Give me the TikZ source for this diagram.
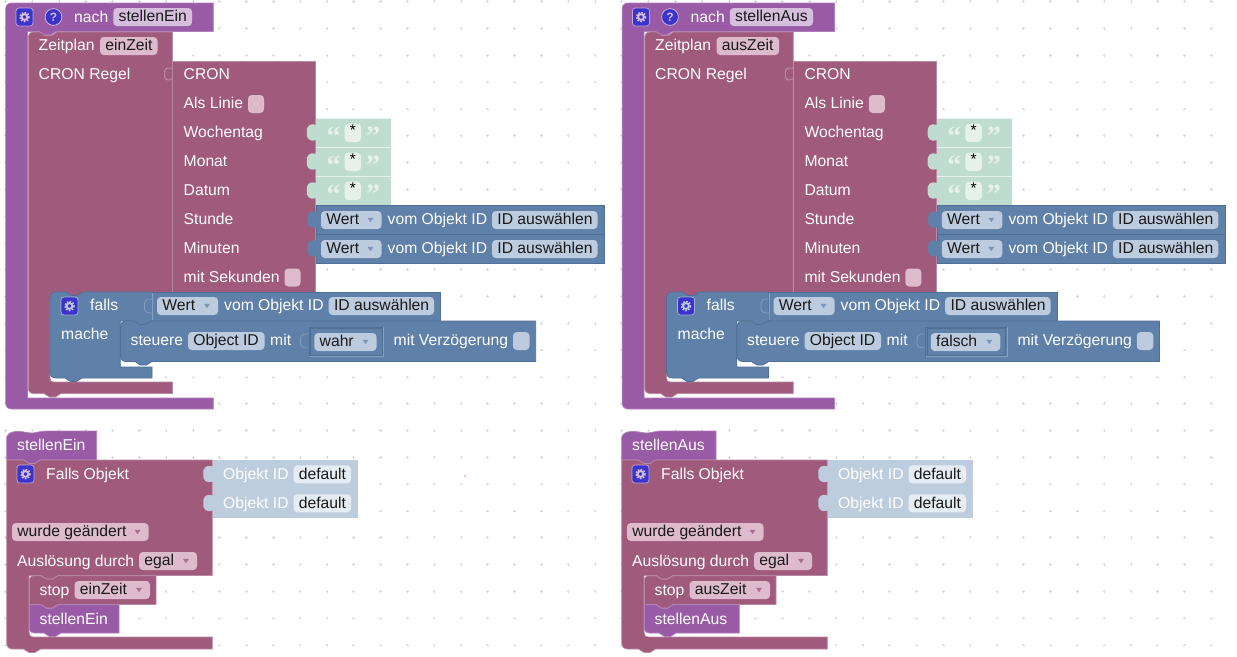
\documentclass[tikz,border=0pt]{standalone}
\usepackage{fontspec}
\setmainfont{Liberation Sans}
\newfontfamily\qfont{Liberation Serif}
\definecolor{cPurple}{HTML}{995BA5}
\definecolor{cPurpleE}{HTML}{B07FBB}
\definecolor{cMaroon}{HTML}{A05A7C}
\definecolor{cMaroonE}{HTML}{B98AA3}
\definecolor{cBlue}{HTML}{5F80A8}
\definecolor{cBlueE}{HTML}{4F7096}
\definecolor{cBlueL}{HTML}{86A0C2}
\definecolor{cGreen}{HTML}{BFDCD0}
\definecolor{cLight}{HTML}{BDCDDE}
\definecolor{fPurple}{HTML}{D6BFDD}
\definecolor{fMaroon}{HTML}{DDBBCC}
\definecolor{fBlue}{HTML}{BCCBDD}
\definecolor{fGreen}{HTML}{E6F1EC}
\definecolor{fLight}{HTML}{E6ECF3}
\definecolor{cIcon}{HTML}{3A33CC}
\definecolor{cDot}{HTML}{D8D8D8}
\definecolor{aBlue}{HTML}{7C97B8}
\definecolor{aMaroon}{HTML}{A87090}
\newcount\nn
\newcommand\nx{\global\advance\nn by 1 }
\tikzset{
  lbl/.style={anchor=base west,inner sep=0pt,text=white,font=\fontsize{15.7}{18}\selectfont},
  fld/.style={anchor=base west,inner sep=0pt,text=black!90,font=\fontsize{15.7}{18}\selectfont},
}
% text label: x, centre y, text
\newcommand\lbl[3]{\nx\node[lbl] (n\the\nn) at (#1,{#2+5.5}) {#3};}
% pill: x1,y1,x2,y2,fill,text
\newcommand\pill[6]{\fill[#5,rounded corners=3.8] (#1,#2) rectangle (#3,#4);
  \nx\node[fld] (n\the\nn) at ({#1+5.2},{(#2+#4)/2+4.9}) {#6};}
% dropdown arrow: right edge x2, centre y, colour
\newcommand\arrw[3]{\fill[#3] ({#1-14},{#2-2.2}) -- ({#1-8},{#2-2.2}) -- ({#1-11},{#2+2.2}) -- cycle;}
\newcommand\chk[5]{\fill[#5,rounded corners=3.8] (#1,#2) rectangle (#3,#4);}
% value socket/tab: x of the block edge, centre y, colour
\newcommand\tabb[3]{\fill[#3,shift={(#1,#2)}] (0.6,-7) .. controls (-1,-8.5) and (-7.5,-9.5) .. (-9,-4) .. controls (-9.3,-1.5) and (-9.3,1.5) .. (-9,4) .. controls (-7.5,9.5) and (-1,8.5) .. (0.6,7) -- cycle;}
\newcommand\socket[2]{\draw[#2,line width=.7,shift={(#1,0)}] (0,-7) .. controls (-3,-7.5) and (-7.5,-7) .. (-8,-3) -- (-8,3) .. controls (-7.5,7) and (-3,7) .. (0,7);}
\newcommand\dentR[2]{ -- (#1,#2) -- ({#1+5.5},{#2+3.5}) -- ({#1+11.5},{#2+3.5}) -- ({#1+17},#2) }
\newcommand\dentL[2]{ -- ({#1+17},#2) -- ({#1+11.5},{#2+3.5}) -- ({#1+5.5},{#2+3.5}) -- (#1,#2) }
\newcommand\gear[4]{\fill[cIcon,rounded corners=3] (#1,#2) rectangle ({#1+17},{#2+18});
  \draw[#4,line width=.7,rounded corners=3,opacity=.8] (#1,#2) rectangle ({#1+17},{#2+18});
  \draw[#3,line width=1.9] ({#1+8.5},{#2+9}) circle (2.9);
  \draw[#3,line width=1.5,dash pattern=on 1.6pt off 1.44pt] ({#1+8.5},{#2+9}) circle (4.6);}
\newcommand\upperblock[8]{%
  % purple C
  \path[fill=cPurple,draw=cPurpleE,line width=.7] (5.7,9) .. controls (5.7,5) and (8,3) .. (12,3) -- (#3,3) -- (#3,31.5) \dentL{39}{31.5} -- (27.5,31.5) -- (27.5,398) -- (#3,398) -- (#3,409) -- (12,409) .. controls (8,409) and (5.7,407) .. (5.7,403) -- cycle;
  \gear{16}{8}{fPurple}{fPurple}
  \fill[cIcon] (53.5,17) circle (8.4);
  \draw[fPurple,line width=.7] (53.5,17) circle (8.4);
  \nx\node[inner sep=0pt,text=fPurple,font=\bfseries\fontsize{12}{12}\selectfont] (n\the\nn) at (53.5,17) {?};
  \lbl{74}{17}{nach}
  \pill{113.3}{8}{#4}{26}{fPurple}{#1}
  % Zeitplan C
  \path[fill=cMaroon,draw=cMaroonE,line width=.7] (28.3,38) .. controls (28.3,34) and (30,32) .. (34,32) \dentR{40}{32} -- ({172.5+#6},32) -- ({172.5+#6},300) -- (50,300) -- (50,378) .. controls (50,381) and (51,382) .. (54,382) -- ({172.5+#6},382) -- ({172.5+#6},393.5) \dentL{44}{393.5} -- (34,393.5) .. controls (30,393.5) and (28.3,391.5) .. (28.3,388) -- cycle;
  \lbl{38.5}{45}{Zeitplan}
  \pill{100}{37}{#5}{55}{fMaroon}{#2}
  \lbl{38.5}{74}{CRON Regel}
  \begin{scope}[shift={(#6,0)}]
    % CRON
    \fill[cMaroonE,shift={(172.5,74)}] (0.5,-6.5) -- (-4,-6.5) .. controls (-8,-6.5) and (-8.5,-4) .. (-8.5,0) .. controls (-8.5,4) and (-8,6.5) .. (-4,6.5) -- (0.5,4.5) -- cycle;
    \fill[cMaroon,shift={(172.5,74)}] (0.5,-5.5) -- (-4,-5.5) .. controls (-7,-5.5) and (-7.5,-3) .. (-7.5,0) .. controls (-7.5,3) and (-7,5.5) .. (-4,5.5) -- (0.5,3.5) -- cycle;
    \path[fill=cMaroon,draw=cMaroonE,line width=.7] (172.8,61) -- (315.3,61) -- (315.3,300) -- (172.8,300) -- cycle;
    \lbl{183.5}{74}{CRON}
    \lbl{183.5}{103}{Als Linie}
    \chk{248}{95}{264}{113}{fMaroon}
    \lbl{183.5}{132}{Wochentag}
    \lbl{183.5}{161}{Monat}
    \lbl{183.5}{190}{Datum}
    \lbl{183.5}{219}{Stunde}
    \lbl{183.5}{248}{Minuten}
    \lbl{183.5}{276.5}{mit Sekunden}
    \chk{284.5}{268.5}{300.5}{286.5}{fMaroon}
    % string values
    \foreach \yy in {118,147,176}{
      \fill[cGreen] (316,\yy) rectangle (391,{\yy+29});
      \draw[fGreen,line width=.5] (316,\yy) -- (391,\yy);
      \tabb{316}{\yy+14.5}{cGreen}
      \nx\node[inner sep=0pt,text=fGreen,font=\qfont\bfseries\fontsize{28}{28}\selectfont] (n\the\nn) at (333.5,{\yy+18.5}) {“};
      \fill[fGreen,rounded corners=3.8] (344.5,{\yy+5.5}) rectangle (361,{\yy+24});
      \nx\node[inner sep=0pt,text=black,font=\fontsize{15.5}{18}\selectfont] (n\the\nn) at (352.8,{\yy+12.5}) {*};
      \nx\node[inner sep=0pt,text=fGreen,font=\qfont\bfseries\fontsize{28}{28}\selectfont] (n\the\nn) at (373,{\yy+18.5}) {”};
    }
    % Wert blocks
    \foreach \yy in {205.5,234.5}{
      \path[fill=cBlue,draw=cBlueE,line width=.7] (316.5,\yy) rectangle (604.2,{\yy+29});
      \tabb{316.5}{\yy+14}{cBlue}
      \pill{321}{\yy+5.5}{381.5}{\yy+23.5}{fBlue}{Wert}
      \arrw{381.5}{\yy+14.5}{aBlue}
      \lbl{387.5}{\yy+13.5}{vom Objekt ID}
      \pill{492}{\yy+5.5}{597.5}{\yy+23.5}{fBlue}{ID auswählen}
    }
  \end{scope}
  % falls
  \path[fill=cBlue,draw=cBlueE,line width=.7] (50,298) .. controls (50,294) and (52,292) .. (56,292) \dentR{66}{292} -- (152.5,292) -- (152.5,321) \dentL{134}{321} -- (120.3,321) -- (120.3,367) -- (152,367) -- (152,378) \dentL{65}{378} -- (56,378) .. controls (52,378) and (50,376) .. (50,372) -- cycle;
  \gear{61}{297}{fBlue}{fBlue}
  \lbl{90}{305}{falls}
  \lbl{61}{333.5}{mache}
  \path[fill=cBlue,draw=cBlueE,line width=.7] (152.5,292) rectangle (440.8,321);
  \draw[cBlueL,line width=.7] (152.5,292.5) -- (152.5,320);
  \begin{scope}[shift={(0,306)}]\socket{152.5}{cBlueL}\end{scope}
  \pill{157}{297}{218}{315}{fBlue}{Wert}
  \arrw{218}{306}{aBlue}
  \lbl{224}{305}{vom Objekt ID}
  \pill{328.7}{297}{434}{315}{fBlue}{ID auswählen}
  % steuere
  \path[fill=cBlue,draw=cBlueE,line width=.7] (120.5,327) .. controls (120.5,323) and (122.5,321) .. (126.5,321) \dentR{134}{321} -- ({535.7+#8},321) -- ({535.7+#8},361.5) \dentL{135}{361.5} -- (126.5,361.5) .. controls (122.5,361.5) and (120.5,359.5) .. (120.5,355.5) -- cycle;
  \lbl{130.5}{340}{steuere}
  \pill{188}{332}{264.5}{350}{fBlue}{Object ID}
  \lbl{270}{340}{mit}
  \begin{scope}[shift={(0,341)}]\socket{308.5}{cBlueL}\end{scope}
  \draw[cBlueE,line width=.7] (309,356.5) -- (309,327) -- ({383.5+#8},327);
  \draw[cBlueL,line width=.7] ({383.5+#8},327) -- ({383.5+#8},356.5) -- (309,356.5);
  \draw[cBlueE,line width=.7] (310.5,355) -- (310.5,328.5) -- ({382+#8},328.5) -- ({382+#8},355) -- cycle;
  \pill{314.3}{333}{{376.5+#8}}{351}{fBlue}{#7}
  \arrw{376.5+#8}{342}{aBlue}
  \lbl{{393.5+#8}}{340}{mit Verzögerung}
  \chk{{513+#8}}{332}{{529.5+#8}}{350}{fBlue}
}
\newcommand\lowerblock[6]{%
  \path[fill=cPurple,draw=cPurpleE,line width=.7] (6.7,437) .. controls (8,432.5) and (13,431) .. (20,431.5) .. controls (24,431.7) and (28,433) .. (32,433) .. controls (36,433) and (40,431) .. (46,431) -- (#2,431) -- (#2,460) \dentL{23.5}{460} -- (6.7,460) -- cycle;
  \lbl{17}{444.5}{#1}
  % Falls Objekt
  \path[fill=cMaroon,draw=cMaroonE,line width=.7] (6.7,460) \dentR{23.5}{460} -- (212.3,460) -- (212.3,575.5) \dentL{41}{575.5} -- (29,575.5) -- (29,632) .. controls (29,635) and (30,637) .. (34,637) -- (212.3,637) -- (212.3,649) \dentL{23.5}{649} -- (13,649) .. controls (9,649) and (6.7,647) .. (6.7,643) -- cycle;
  \foreach \yy in {460,489}{
    \fill[cLight] (212.5,\yy) rectangle (358,{\yy+28.5});
    \tabb{212.5}{\yy+14}{cLight}
    \lbl{223}{\yy+13.5}{Objekt ID}
    \pill{293.5}{\yy+5.3}{351}{\yy+23.3}{fLight}{default}
  }
  \gear{17}{465}{fPurple}{fPurple}
  \lbl{46}{473.5}{Falls Objekt}
  \pill{12}{523}{148.5}{541}{fMaroon}{wurde geändert}
  \arrw{148.5}{532}{aMaroon}
  \lbl{17}{560.5}{Auslösung durch}
  \pill{139}{552}{197}{570}{fMaroon}{egal}
  \arrw{197}{561}{aMaroon}
  % stop
  \path[fill=cMaroon,draw=cMaroonE,line width=.7] (29.3,581) .. controls (29.3,577.5) and (31,575.7) .. (35,575.7) \dentR{41}{575.7} -- (#4,575.7) -- (#4,604.5) \dentL{41}{604.5} -- (29.3,604.5) -- cycle;
  \lbl{39.5}{589.5}{stop}
  \pill{74.5}{581}{#5}{599}{fMaroon}{#3}
  \arrw{#5}{590}{aMaroon}
  % purple function call
  \path[fill=cPurple,draw=cPurpleE,line width=.7] (29.3,604.8) \dentR{41}{604.8} -- (#6,604.8) -- (#6,633) \dentL{44}{633} -- (35,633) .. controls (31,633) and (29.3,631) .. (29.3,627) -- cycle;
  \lbl{39.5}{618.5}{#1}
}
\begin{document}
\begin{tikzpicture}[x=1pt,y=-1pt]
\useasboundingbox (0,0) rectangle (1237,656);
\fill[white] (0,0) rectangle (1237,656);
% workspace grid
\foreach \i in {0,...,46}{\foreach \j in {0,...,24}{
  \draw[cDot,line width=.6] ({5.3+26.8*\i-1.3},{1.7+26.8*\j}) -- ({5.3+26.8*\i+1.3},{1.7+26.8*\j})
    ({5.3+26.8*\i},{1.7+26.8*\j-1.3}) -- ({5.3+26.8*\i},{1.7+26.8*\j+1.3});
}}
\fill[red!80!black] (465,476) circle (.7);
\upperblock{stellenEin}{einZeit}{213.3}{192}{157.5}{0}{wahr}{0}
\begin{scope}[shift={(616.5,0)}]
\upperblock{stellenAus}{ausZeit}{218.2}{196.5}{162.5}{4.3}{falsch}{7.3}
\end{scope}
\lowerblock{stellenEin}{96.7}{einZeit}{156}{150}{119}
\begin{scope}[shift={(615,0)}]
\lowerblock{stellenAus}{101}{ausZeit}{161}{155}{124.3}
\end{scope}
\end{tikzpicture}
\end{document}
